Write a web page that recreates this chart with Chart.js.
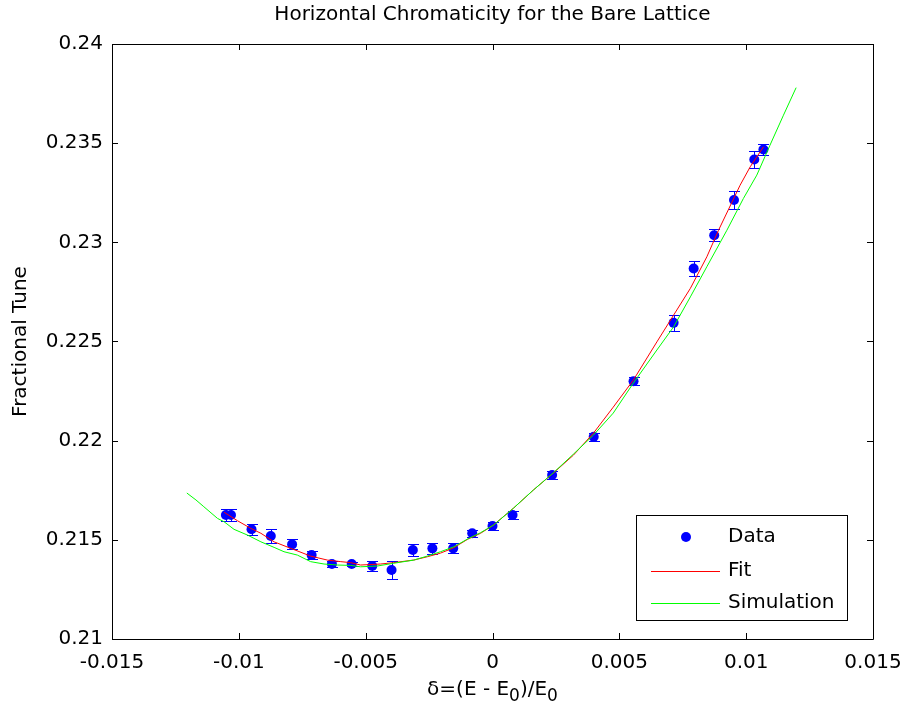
<!DOCTYPE html>
<html>
<head>
<meta charset="utf-8">
<script src="https://cdn.jsdelivr.net/npm/chart.js@4.4.0/dist/chart.umd.min.js"></script>
<style>
  html, body { margin: 0; padding: 0; background: #fff; }
  #wrap { width: 904px; height: 713px; }
</style>
</head>
<body>
<div id="wrap"><canvas id="chart" width="904" height="713"></canvas></div>
<script>
// measured tune values with error bars
const dataX = [-0.01051, -0.01031, -0.00950, -0.00874, -0.00790, -0.00713, -0.00633, -0.00555, -0.00474, -0.00398,
  -0.00314, -0.00237, -0.00155, -0.00080, 0.00000, 0.00079, 0.00235, 0.00399, 0.00556, 0.00714,
  0.00793, 0.00874, 0.00952, 0.01032, 0.01068];
const dataY = [0.21625, 0.21625, 0.21553, 0.21519, 0.21477, 0.21423, 0.21378, 0.21378, 0.21368, 0.21348,
  0.21449, 0.21457, 0.21457, 0.21533, 0.21570, 0.21625, 0.21827, 0.22020, 0.22300, 0.22594,
  0.22868, 0.23036, 0.23213, 0.23418, 0.23468];
const dataErr = [0.0003, 0.0003, 0.00029, 0.00035, 0.00025, 0.0002, 0.00015, 0.0001, 0.00025, 0.00045,
  0.00028, 0.00027, 0.00025, 0.00018, 0.0002, 0.0002, 0.0002, 0.0002, 0.0002, 0.00042,
  0.00036, 0.0003, 0.00045, 0.00045, 0.00027];

// fit curve
const fitX = [-0.01058, -0.01005, -0.00953, -0.00913, -0.00861, -0.00795, -0.00717, -0.00651, -0.00598, -0.00559,
  -0.00520, -0.00441, -0.00390, -0.00311, -0.00256, -0.00205, -0.00154, -0.00098, -0.00047, 0.00004,
  0.00083, 0.00161, 0.00240, 0.00319, 0.00398, 0.00476, 0.00555, 0.00648, 0.00714, 0.00780,
  0.00845, 0.00891, 0.00976, 0.01016, 0.01068];
const fitY = [0.21639, 0.21596, 0.21558, 0.21533, 0.21490, 0.21457, 0.21418, 0.21398, 0.21390, 0.21385,
  0.21373, 0.21378, 0.21385, 0.21398, 0.21415, 0.21433, 0.21459, 0.21503, 0.21533, 0.21575,
  0.21660, 0.21751, 0.21837, 0.21927, 0.22038, 0.22169, 0.22305, 0.22498, 0.22633, 0.22768,
  0.22927, 0.23061, 0.23288, 0.23381, 0.23481];

// simulation curve
const simX = [-0.01205, -0.01169, -0.01138, -0.01084, -0.01058, -0.01019, -0.00966, -0.00913, -0.00861, -0.00822,
  -0.00769, -0.00717, -0.00664, -0.00611, -0.00559, -0.00520, -0.00454, -0.00389, -0.00310, -0.00257,
  -0.00205, -0.00152, -0.00100, -0.00047, 0.00005, 0.00083, 0.00161, 0.00240, 0.00319, 0.00398,
  0.00476, 0.00555, 0.00648, 0.00714, 0.00780, 0.00845, 0.00924, 0.00989, 0.01042, 0.01094,
  0.01147, 0.01197];
const simY = [0.21736, 0.21701, 0.21667, 0.21608, 0.21591, 0.21553, 0.21524, 0.21490, 0.21462, 0.21440,
  0.21423, 0.21390, 0.21378, 0.21373, 0.21371, 0.21364, 0.21368, 0.21382, 0.21398, 0.21418,
  0.21440, 0.21465, 0.21503, 0.21536, 0.21575, 0.21660, 0.21751, 0.21838, 0.21932, 0.22028,
  0.22139, 0.22290, 0.22457, 0.22574, 0.22725, 0.22877, 0.23061, 0.23221, 0.23339, 0.23490,
  0.23641, 0.23780];

const xTicks = [-0.015, -0.01, -0.005, 0, 0.005, 0.01, 0.015];
const xTickLabels = ['-0.015', '-0.01', '-0.005', '0', '0.005', '0.01', '0.015'];
const yTicks = [0.21, 0.215, 0.22, 0.225, 0.23, 0.235, 0.24];
const yTickLabels = ['0.21', '0.215', '0.22', '0.225', '0.23', '0.235', '0.24'];

const FONT = "'DejaVu Sans', sans-serif";

function zip(xs, ys) {
  return xs.map((x, i) => ({ x: x, y: ys[i] }));
}

// error bars under the markers
const errorBars = {
  id: 'errorBars',
  beforeDatasetsDraw(chart) {
    const ctx = chart.ctx;
    const xs = chart.scales.x, ys = chart.scales.y;
    ctx.save();
    ctx.strokeStyle = '#0000ff';
    ctx.lineWidth = 1;
    dataX.forEach((x, i) => {
      const px = Math.round(xs.getPixelForValue(x)) + 0.5;
      const top = Math.round(ys.getPixelForValue(dataY[i] + dataErr[i])) + 0.5;
      const bot = Math.round(ys.getPixelForValue(dataY[i] - dataErr[i])) + 0.5;
      ctx.beginPath();
      ctx.moveTo(px, top); ctx.lineTo(px, bot);
      ctx.moveTo(px - 5.5, top); ctx.lineTo(px + 5.5, top);
      ctx.moveTo(px - 5.5, bot); ctx.lineTo(px + 5.5, bot);
      ctx.stroke();
    });
    ctx.restore();
  }
};

// box, inward ticks, titles and legend in the MATLAB look
const frame = {
  id: 'frame',
  afterDraw(chart) {
    const ctx = chart.ctx;
    const a = chart.chartArea;
    const xs = chart.scales.x, ys = chart.scales.y;
    ctx.save();
    ctx.strokeStyle = '#000';
    ctx.lineWidth = 1;
    ctx.beginPath();
    ctx.rect(Math.round(a.left) + 0.5, Math.round(a.top) + 0.5,
      Math.round(a.right - a.left), Math.round(a.bottom - a.top));
    xTicks.forEach(v => {
      const px = Math.round(xs.getPixelForValue(v)) + 0.5;
      ctx.moveTo(px, a.bottom); ctx.lineTo(px, a.bottom - 6);
      ctx.moveTo(px, a.top); ctx.lineTo(px, a.top + 6);
    });
    yTicks.forEach(v => {
      const py = Math.round(ys.getPixelForValue(v)) + 0.5;
      ctx.moveTo(a.left, py); ctx.lineTo(a.left + 6, py);
      ctx.moveTo(a.right, py); ctx.lineTo(a.right - 6, py);
    });
    ctx.stroke();

    const cx = (a.left + a.right) / 2;
    ctx.fillStyle = '#000';
    ctx.textBaseline = 'middle';
    ctx.textAlign = 'center';
    ctx.font = '20px ' + FONT;
    ctx.fillText('Horizontal Chromaticity for the Bare Lattice', cx, 15);

    // x label with subscripts
    const parts = [['δ=(E - E', 20, 0], ['0', 17, 7], [')/E', 20, 0], ['0', 17, 7]];
    let total = 0;
    parts.forEach(p => { ctx.font = p[1] + 'px ' + FONT; total += ctx.measureText(p[0]).width; });
    let tx = cx - total / 2;
    ctx.textAlign = 'left';
    parts.forEach(p => {
      ctx.font = p[1] + 'px ' + FONT;
      ctx.fillText(p[0], tx, 690 + p[2]);
      tx += ctx.measureText(p[0]).width;
    });

    ctx.save();
    ctx.translate(21, (a.top + a.bottom) / 2);
    ctx.rotate(-Math.PI / 2);
    ctx.textAlign = 'center';
    ctx.font = '20px ' + FONT;
    ctx.fillText('Fractional Tune', 0, 0);
    ctx.restore();

    // legend
    const lx = Math.round(a.right) - 237, ly = Math.round(a.bottom) - 124, lw = 211, lh = 105;
    ctx.fillStyle = '#fff';
    ctx.fillRect(lx, ly, lw, lh);
    ctx.strokeStyle = '#000';
    ctx.lineWidth = 1;
    ctx.strokeRect(lx + 0.5, ly + 0.5, lw, lh);
    const rows = [ly + 22, ly + 56, ly + 88];
    ctx.fillStyle = '#0000ff';
    ctx.beginPath();
    ctx.arc(lx + 50, rows[0], 5, 0, Math.PI * 2);
    ctx.fill();
    ctx.fillStyle = '#ff0000';
    ctx.fillRect(lx + 15, rows[1], 69, 1);
    ctx.fillStyle = '#00ff00';
    ctx.fillRect(lx + 15, rows[2], 69, 1);
    ctx.fillStyle = '#000';
    ctx.textAlign = 'left';
    ctx.font = '20px ' + FONT;
    ctx.fillText('Data', lx + 92, rows[0]);
    ctx.fillText('Fit', lx + 92, rows[1]);
    ctx.fillText('Simulation', lx + 92, rows[2]);
    ctx.restore();
  }
};

new Chart(document.getElementById('chart'), {
  type: 'scatter',
  data: {
    datasets: [
      {
        label: 'Simulation',
        data: zip(simX, simY),
        showLine: true,
        borderColor: '#00ff00',
        borderWidth: 1,
        pointRadius: 0,
        order: 0
      },
      {
        label: 'Fit',
        data: zip(fitX, fitY),
        showLine: true,
        borderColor: '#ff0000',
        borderWidth: 1,
        pointRadius: 0,
        order: 1
      },
      {
        label: 'Data',
        data: zip(dataX, dataY),
        showLine: false,
        backgroundColor: '#0000ff',
        borderColor: '#0000ff',
        pointRadius: 5,
        borderWidth: 0,
        order: 2
      }
    ]
  },
  options: {
    responsive: false,
    animation: false,
    devicePixelRatio: 1,
    layout: { padding: { left: 0, right: 31, top: 44, bottom: 0 } },
    plugins: {
      legend: { display: false },
      title: { display: false },
      tooltip: { enabled: false }
    },
    scales: {
      x: {
        type: 'linear',
        min: -0.015,
        max: 0.015,
        afterBuildTicks: s => { s.ticks = xTicks.map(v => ({ value: v })); },
        afterFit: s => { s.height = 74; s.paddingLeft = 0; s.paddingRight = 0; },
        grid: { display: false, drawTicks: false },
        border: { display: false },
        ticks: {
          color: '#000',
          font: { family: FONT, size: 20 },
          padding: 12,
          maxRotation: 0,
          autoSkip: false,
          callback: (v, i) => xTickLabels[i]
        }
      },
      y: {
        type: 'linear',
        min: 0.21,
        max: 0.24,
        afterBuildTicks: s => { s.ticks = yTicks.map(v => ({ value: v })); },
        afterFit: s => { s.width = 112; s.paddingTop = 0; s.paddingBottom = 0; },
        grid: { display: false, drawTicks: false },
        border: { display: false },
        ticks: {
          color: '#000',
          font: { family: FONT, size: 20 },
          padding: 9,
          autoSkip: false,
          callback: (v, i) => yTickLabels[i]
        }
      }
    }
  },
  plugins: [errorBars, frame]
});
</script>
</body>
</html>
